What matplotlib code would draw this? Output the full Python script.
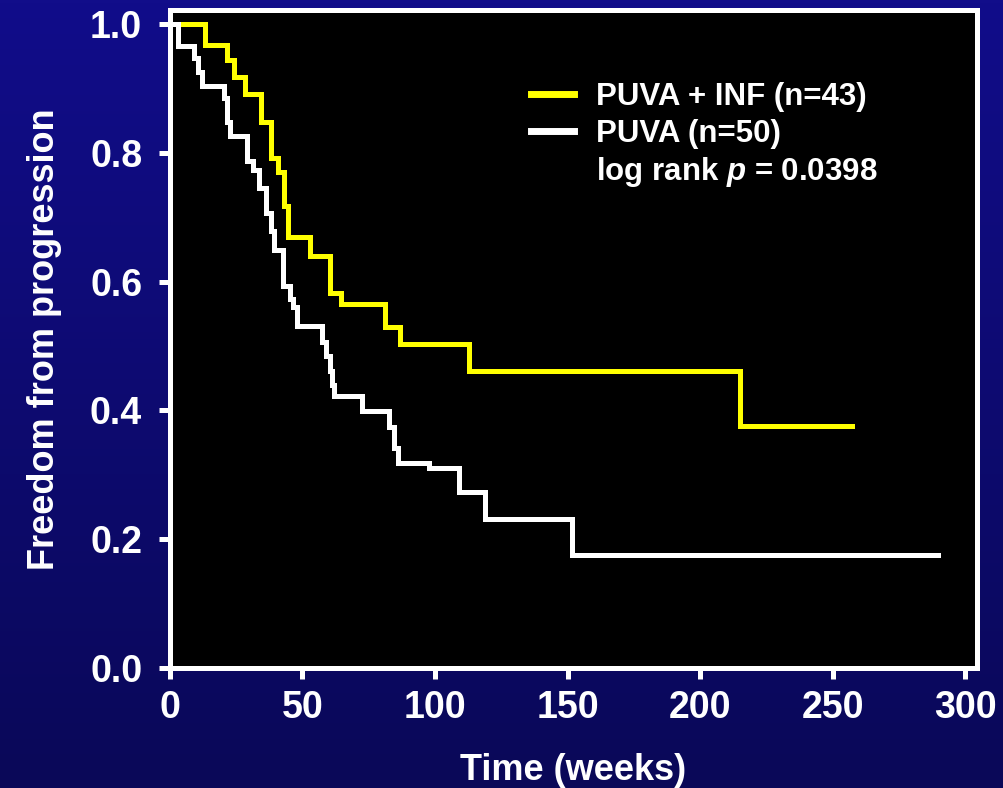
"""
Kaplan-Meier style step curves: freedom from progression, PUVA + INF vs PUVA.
"""

import numpy as np
import matplotlib
matplotlib.use("Agg")
import matplotlib.pyplot as plt
from matplotlib.lines import Line2D

plt.rcParams['font.family'] = ['Liberation Sans', 'DejaVu Sans']
plt.rcParams['font.weight'] = 'bold'
plt.rcParams['axes.labelweight'] = 'bold'
plt.rcParams['mathtext.fontset'] = 'custom'
plt.rcParams['mathtext.rm'] = 'Liberation Sans:bold'
plt.rcParams['mathtext.it'] = 'Liberation Sans:bold:italic'

# PUVA + INF (n=43) - weeks at which the curve steps, survival after the step
t_inf = [0, 13.3, 21.7, 24.0, 28.3, 34.3, 38.3, 40.6, 43.1, 44.7, 52.8, 60.3,
         64.5, 81.0, 86.7, 112.7, 215.2, 257.4]
s_inf = [1.0, 0.967, 0.945, 0.918, 0.891, 0.848, 0.792, 0.771, 0.717, 0.670,
         0.640, 0.582, 0.566, 0.529, 0.503, 0.461, 0.376, 0.376]

# PUVA (n=50)
t_puva = [0, 2.9, 8.9, 10.4, 12.1, 20.5, 21.7, 22.7, 29.0, 31.5, 33.7, 36.2,
          38.1, 39.4, 42.5, 45.3, 46.5, 48.1, 57.3, 58.8, 60.2, 61.0, 61.8,
          72.4, 82.7, 84.6, 86.2, 97.7, 109.0, 118.9, 151.8, 289.9]
s_puva = [1.0, 0.966, 0.948, 0.925, 0.904, 0.886, 0.848, 0.827, 0.787, 0.774,
          0.746, 0.707, 0.679, 0.650, 0.593, 0.573, 0.560, 0.531, 0.507, 0.484,
          0.461, 0.440, 0.422, 0.399, 0.374, 0.341, 0.318, 0.310, 0.273, 0.231,
          0.175, 0.175]

labels = ['PUVA + INF (n=43)', 'PUVA (n=50)']
p_text = 'log rank $p$ = 0.0398'
x_ticks = [0, 50, 100, 150, 200, 250, 300]
y_ticks = [0.0, 0.2, 0.4, 0.6, 0.8, 1.0]

fig = plt.figure(figsize=(10.04, 7.88), dpi=100)

# navy gradient background
bg = fig.add_axes([0, 0, 1, 1], zorder=-1)
top = np.array([17, 13, 138]) / 255
bottom = np.array([10, 8, 88]) / 255
grad = np.linspace(0, 1, 256)[:, None, None]
img = top * (1 - grad) + bottom * grad
bg.imshow(np.repeat(img, 2, axis=1), aspect='auto', extent=[0, 1, 0, 1])
bg.axis('off')

ax = fig.add_axes([0.1693, 0.1523, 0.8038, 0.835])
ax.set_facecolor('black')

lw = 3.6
l1, = ax.step(t_inf, s_inf, where='post', color='#ffff00', lw=lw,
              solid_joinstyle='miter')
l2, = ax.step(t_puva, s_puva, where='post', color='white', lw=lw,
              solid_joinstyle='miter')

ax.set_xlim(0, 304.5)
ax.set_ylim(0, 1.022)
ax.set_xticks(x_ticks)
ax.set_yticks(y_ticks)
ax.set_yticklabels([f"{v:.1f}" for v in y_ticks])

for s in ax.spines.values():
    s.set_color('white')
    s.set_linewidth(lw)

ax.tick_params(colors='white', direction='out', length=8, width=lw,
               labelsize=27)
ax.tick_params(axis='x', pad=8)
ax.tick_params(axis='y', pad=12)

ax.set_xlabel('Time (weeks)', color='white', fontsize=26, labelpad=19)
ax.set_ylabel('Freedom from progression', color='white', fontsize=26,
              labelpad=20)

blank = Line2D([], [], color='none')
leg = ax.legend([l1, l2, blank], labels + [p_text],
                loc='upper left', bbox_to_anchor=(0.447, 0.89),
                frameon=False, fontsize=22.5, labelcolor='white',
                handlelength=1.4, handletextpad=0.68, labelspacing=0.2,
                borderpad=0, borderaxespad=0)
for h in leg.legend_handles[:2]:
    h.set_linewidth(5)

fig.savefig('out.png', dpi=100, facecolor=fig.get_facecolor())
